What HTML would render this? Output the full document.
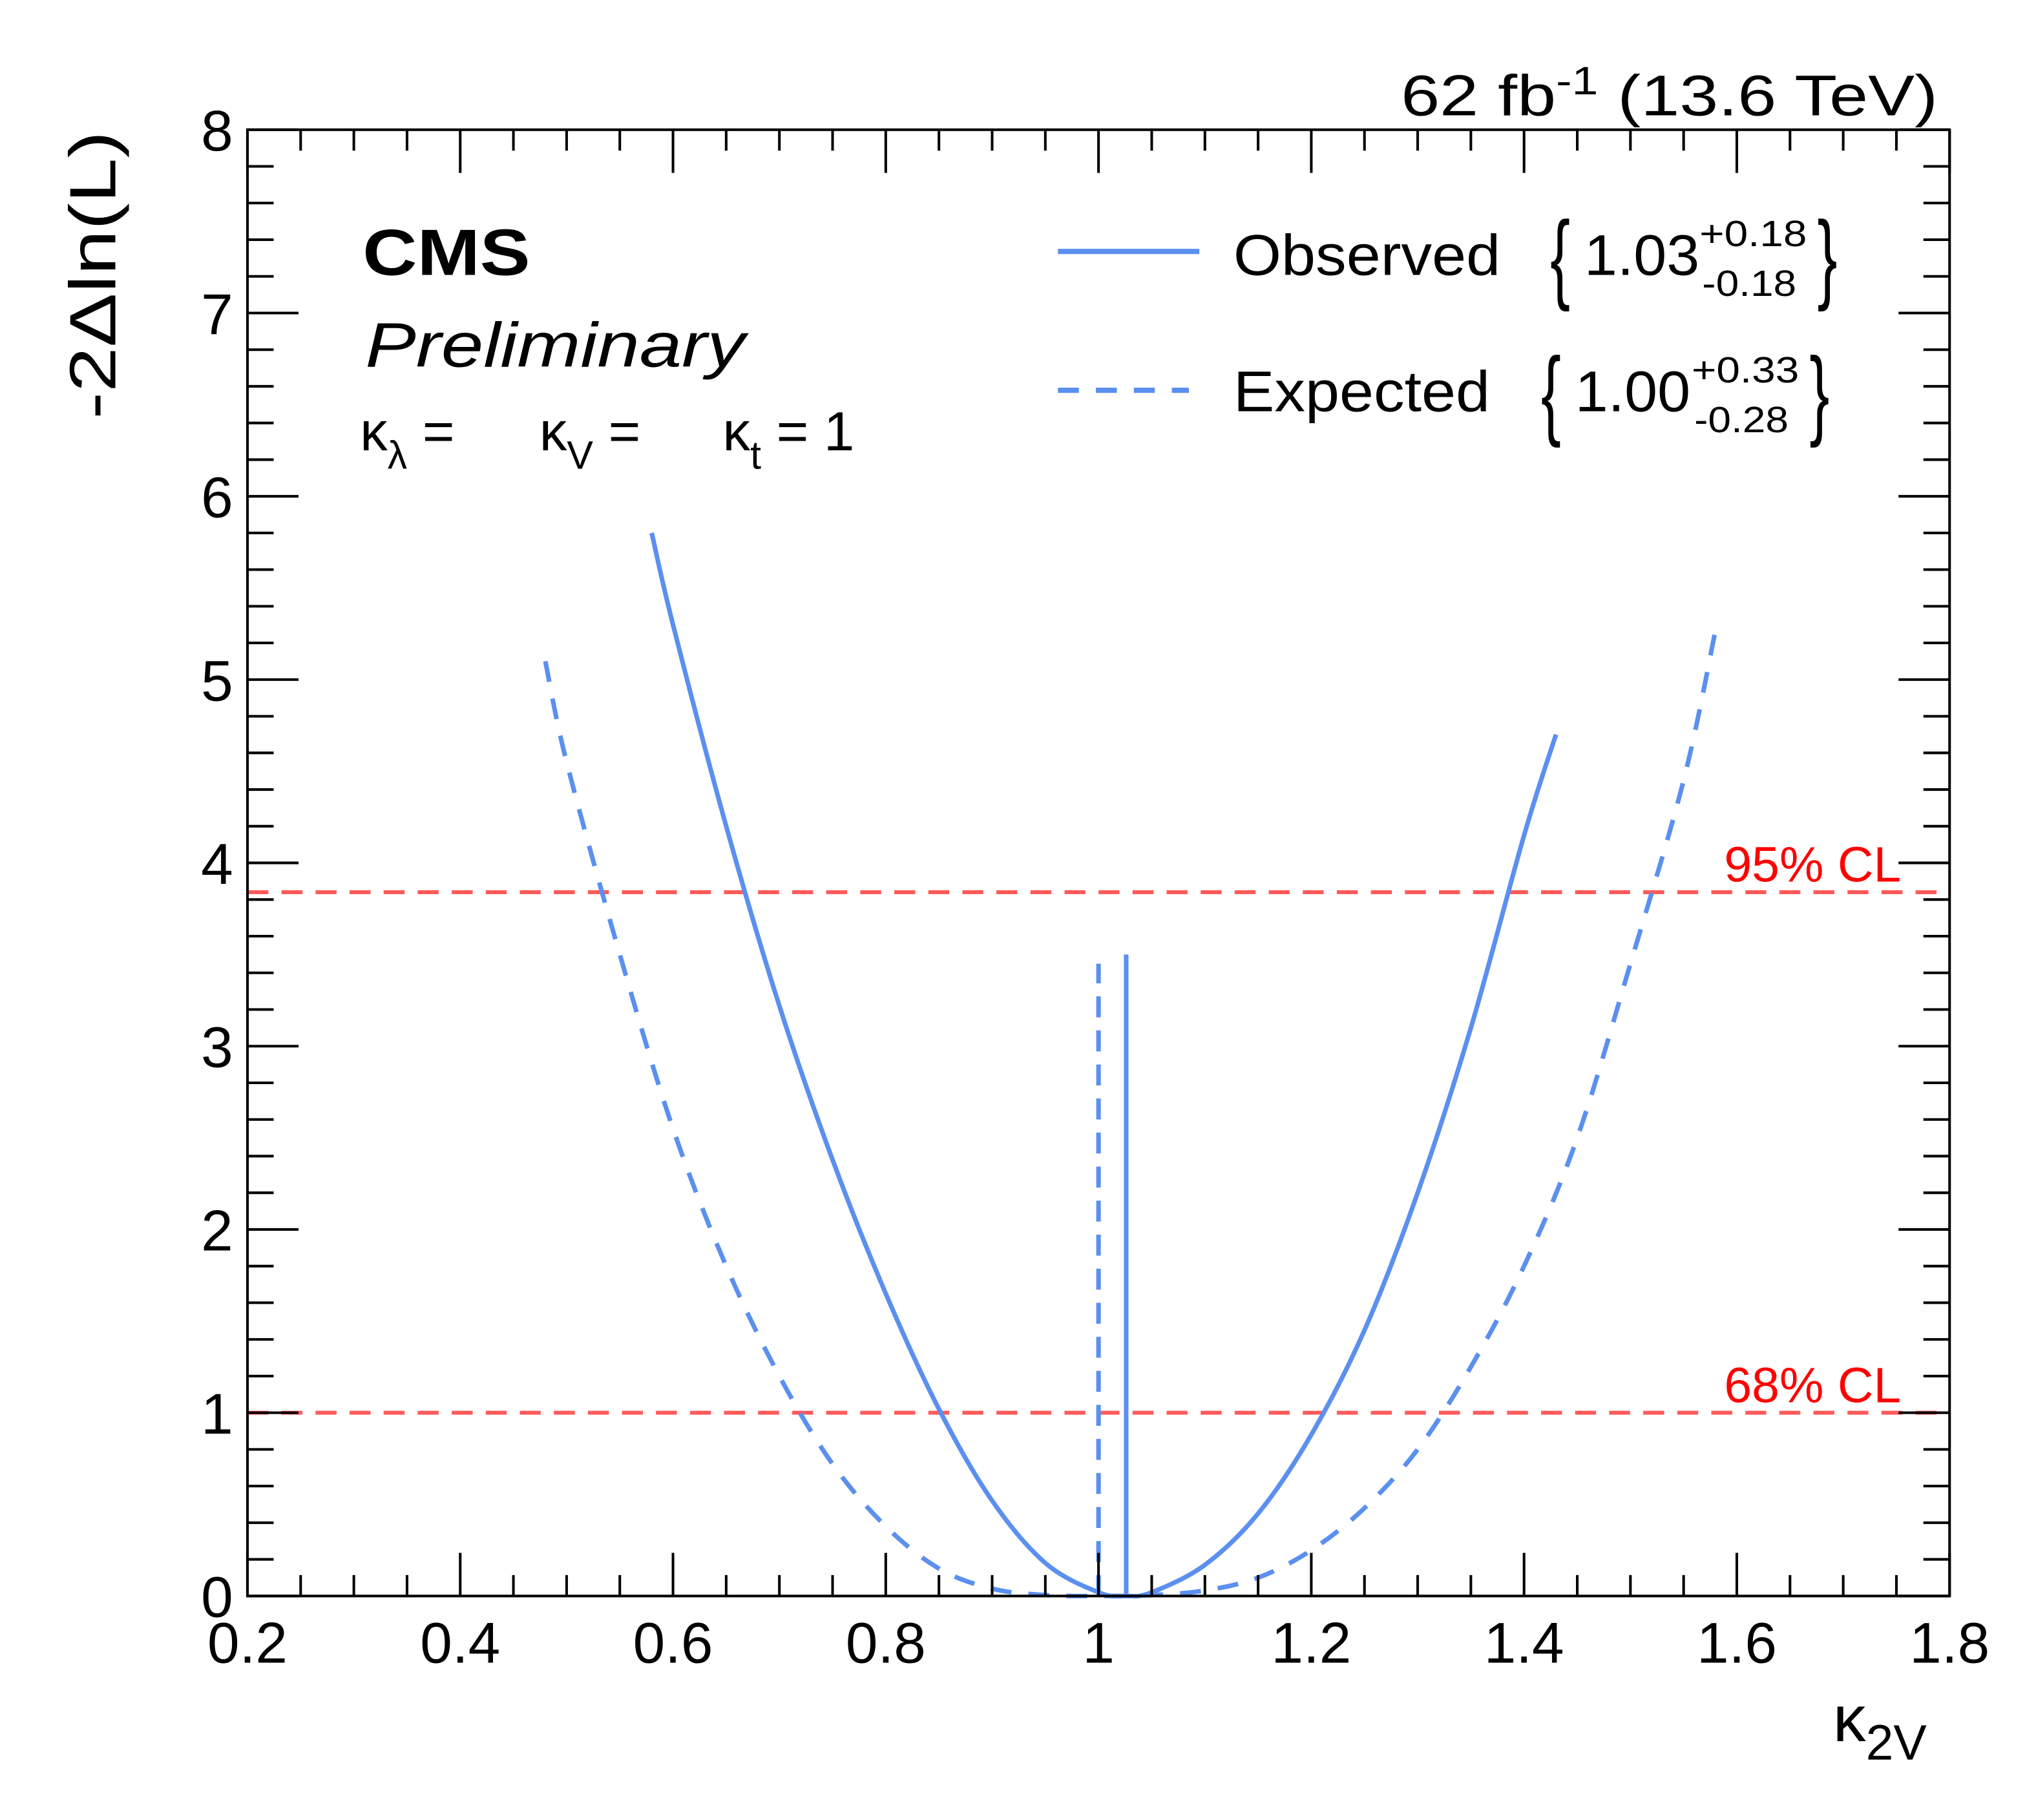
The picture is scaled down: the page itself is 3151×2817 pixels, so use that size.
<!DOCTYPE html>
<html><head><meta charset="utf-8"><style>
html,body{margin:0;padding:0;background:#fff;}
svg{display:block;}
text{font-family:"Liberation Sans",sans-serif;}
</style></head><body>
<svg id="chart" width="3151" height="2817" viewBox="0 0 1555 1390" xmlns="http://www.w3.org/2000/svg">
<rect x="0" y="0" width="1555" height="1390" fill="#fff"/>
<g id="marks"></g>
<g id="axes"></g>
<rect x="189" y="99" width="1300" height="1120" fill="none" stroke="#000" stroke-width="2"/>
<text x="1480" y="88" text-anchor="end" font-size="44" textLength="410" lengthAdjust="spacingAndGlyphs">62 fb<tspan dy="-16" font-size="30">-1</tspan><tspan dy="16"> (13.6 TeV)</tspan></text>
<text transform="translate(88,320) rotate(-90)" font-size="50" textLength="220" lengthAdjust="spacingAndGlyphs">-2Δln(L)</text>
<text x="1400" y="1330" font-size="50">κ<tspan dy="14" font-size="38">2V</tspan></text>
<text x="277" y="210" font-size="50" font-weight="bold" textLength="128" lengthAdjust="spacingAndGlyphs">CMS</text>
<text x="279" y="280" font-size="48" font-style="italic" textLength="290" lengthAdjust="spacingAndGlyphs">Preliminary</text>
<g font-size="42">
<text x="275" y="344">κ<tspan dy="14" font-size="30">λ</tspan><tspan dy="-14"> =</tspan></text>
<text x="412" y="344">κ<tspan dy="14" font-size="30">V</tspan><tspan dy="-14"> =</tspan></text>
<text x="552" y="344">κ<tspan dy="14" font-size="30">t</tspan><tspan dy="-14"> = 1</tspan></text>
</g>
<g>
<line x1="808" y1="192" x2="916" y2="192" stroke="#5b8ff0" stroke-width="4"/>
<text x="942" y="210" font-size="44" textLength="204" lengthAdjust="spacingAndGlyphs">Observed</text>
<text x="1184" y="222" font-size="76" transform="translate(1184,222) scale(0.6,1) translate(-1184,-222)">{</text>
<text x="1210" y="210" font-size="44" textLength="88" lengthAdjust="spacingAndGlyphs">1.03</text>
<text x="1298" y="188" font-size="28" textLength="82" lengthAdjust="spacingAndGlyphs">+0.18</text>
<text x="1300" y="226" font-size="28" textLength="72" lengthAdjust="spacingAndGlyphs">-0.18</text>
<text x="1388" y="222" font-size="76" transform="translate(1388,222) scale(0.6,1) translate(-1388,-222)">}</text>
<line x1="808" y1="298" x2="908" y2="298" stroke="#5b8ff0" stroke-width="4" stroke-dasharray="16,13"/>
<text x="942" y="314" font-size="44" textLength="196" lengthAdjust="spacingAndGlyphs">Expected</text>
<text x="1177" y="326" font-size="76" transform="translate(1177,326) scale(0.6,1) translate(-1177,-326)">{</text>
<text x="1203" y="314" font-size="44" textLength="88" lengthAdjust="spacingAndGlyphs">1.00</text>
<text x="1292" y="292" font-size="28" textLength="82" lengthAdjust="spacingAndGlyphs">+0.33</text>
<text x="1294" y="330" font-size="28" textLength="72" lengthAdjust="spacingAndGlyphs">-0.28</text>
<text x="1382" y="326" font-size="76" transform="translate(1382,326) scale(0.6,1) translate(-1382,-326)">}</text>
</g>
</svg>
<script>
const xTicks = [0.2,0.4,0.6,0.8,1,1.2,1.4,1.6,1.8];
const yTicks = [0,1,2,3,4,5,6,7,8];
const obsX = [0.58,0.6,0.65,0.7,0.75,0.8,0.85,0.9,0.95,1.0,1.026,1.05,1.1,1.15,1.2,1.25,1.3,1.35,1.4,1.43];
const obsY = [5.8,5.3,4.2,3.22,2.38,1.65,1.02,0.52,0.18,0.02,0,0.02,0.17,0.45,0.88,1.45,2.2,3.1,4.15,4.7];
const expX = [0.48,0.5,0.55,0.6,0.65,0.7,0.75,0.8,0.85,0.9,0.95,1.0,1.05,1.1,1.15,1.2,1.25,1.3,1.35,1.4,1.45,1.5,1.55,1.58];
const expY = [5.1,4.55,3.5,2.55,1.8,1.2,0.72,0.38,0.15,0.04,0.005,0,0.005,0.03,0.1,0.25,0.48,0.8,1.25,1.8,2.5,3.45,4.45,5.27];
const bestFitObs = 1.026, bestFitObsTop = 3.5;
const bestFitExp = 1.0, bestFitExpTop = 3.45;
const clLevels = [1, 3.84];
const clLabels = ["68% CL", "95% CL"];

const NS = "http://www.w3.org/2000/svg";
const X0 = 189, X1 = 1489, Y0 = 1219, Y1 = 99;
function sx(v){ return X0 + (v - 0.2) / 1.6 * (X1 - X0); }
function sy(v){ return Y0 - v / 8 * (Y0 - Y1); }
function mk(tag, attrs, parent){ const e = document.createElementNS(NS, tag); for (const k in attrs) e.setAttribute(k, attrs[k]); parent.appendChild(e); return e; }
const axes = document.getElementById('axes');
const marks = document.getElementById('marks');

for (let i = 0; i <= 32; i++) {
  const v = 0.2 + i * 0.05;
  const major = i % 4 === 0;
  const L = major ? 33 : 16;
  const x = sx(v);
  const t1 = mk('line', {x1:x, y1:Y0, x2:x, y2:Y0 - L, stroke:'#000', 'stroke-width':2}, axes);
  
  
  const t2 = mk('line', {x1:x, y1:Y1, x2:x, y2:Y1 + L, stroke:'#000', 'stroke-width':2}, axes);
  
  
}
xTicks.forEach(v => {
  const t = mk('text', {x:sx(v), y:1270, 'text-anchor':'middle', 'font-size':44}, axes);
  t.textContent = String(v);
  
  
});
for (let i = 0; i <= 40; i++) {
  const v = i * 0.2;
  const major = i % 5 === 0;
  const L = major ? 39 : 20;
  const y = sy(v);
  const t1 = mk('line', {x1:X0, y1:y, x2:X0 + L, y2:y, stroke:'#000', 'stroke-width':2}, axes);
  
  
  const t2 = mk('line', {x1:X1, y1:y, x2:X1 - L, y2:y, stroke:'#000', 'stroke-width':2}, axes);
  
  
}
yTicks.forEach(v => {
  const t = mk('text', {x:178, y:sy(v) + 16, 'text-anchor':'end', 'font-size':44}, axes);
  t.textContent = String(v);
  
  
});
clLevels.forEach((c, i) => {
  const l = mk('line', {x1:X0, y1:sy(c), x2:X1, y2:sy(c), stroke:'#ff5a5a', 'stroke-width':3, 'stroke-dasharray':'16,10'}, marks);
  
  
  const t = mk('text', {x:1452, y:sy(c) - 8, 'text-anchor':'end', 'font-size':38, fill:'#ff0000'}, marks);
  t.textContent = clLabels[i];
  
  
});
// smooth Catmull-Rom path through the data points
function pathFrom(xs, ys){
  const P = xs.map((x, i) => [sx(x), sy(ys[i])]);
  let d = 'M' + P[0][0].toFixed(2) + ',' + P[0][1].toFixed(2);
  for (let i = 0; i < P.length - 1; i++) {
    const p0 = P[Math.max(i - 1, 0)], p1 = P[i], p2 = P[i + 1], p3 = P[Math.min(i + 2, P.length - 1)];
    const c1 = [p1[0] + (p2[0] - p0[0]) / 6, p1[1] + (p2[1] - p0[1]) / 6];
    const c2 = [p2[0] - (p3[0] - p1[0]) / 6, p2[1] - (p3[1] - p1[1]) / 6];
    d += ' C' + c1[0].toFixed(2) + ',' + c1[1].toFixed(2) + ' ' + c2[0].toFixed(2) + ',' + c2[1].toFixed(2) + ' ' + p2[0].toFixed(2) + ',' + p2[1].toFixed(2);
  }
  return d;
}
const pe = mk('path', {d:pathFrom(expX, expY), fill:'none', stroke:'#5b8ff0', 'stroke-width':3.5, 'stroke-dasharray':'16,13'}, marks);


const po = mk('path', {d:pathFrom(obsX, obsY), fill:'none', stroke:'#5b8ff0', 'stroke-width':3.5}, marks);


const ve = mk('line', {x1:sx(bestFitExp), y1:sy(0), x2:sx(bestFitExp), y2:sy(bestFitExpTop), stroke:'#5b8ff0', 'stroke-width':3.5, 'stroke-dasharray':'16,10'}, marks);


const vo = mk('line', {x1:sx(bestFitObs), y1:sy(0), x2:sx(bestFitObs), y2:sy(bestFitObsTop), stroke:'#5b8ff0', 'stroke-width':3.5}, marks);


</script>
</body></html>
